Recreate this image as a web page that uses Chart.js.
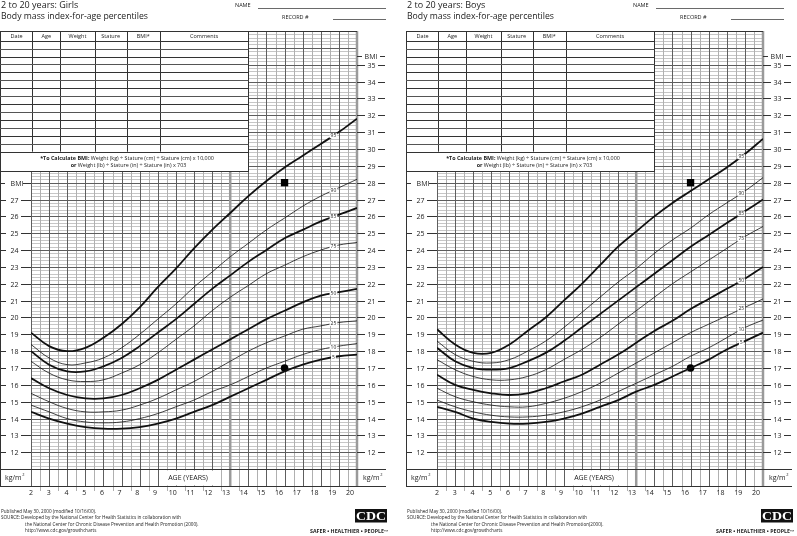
<!DOCTYPE html>
<html>
<head>
<meta charset="utf-8">
<script src="https://cdn.jsdelivr.net/npm/chart.js@4.4.1/dist/chart.umd.min.js"></script>
<style>
  html, body { margin: 0; padding: 0; background: #fff; }
  #page { position: relative; width: 797px; height: 536px; overflow: hidden; }
  .half { position: absolute; top: 0; width: 391px; height: 536px; }
</style>
</head>
<body>
<div id="page">
  <div class="half" style="left:0"><canvas id="girls"></canvas></div>
  <div class="half" style="left:406px"><canvas id="boys"></canvas></div>
</div>
<script>
// ages on the x axis (years)
const ages = [2, 3, 4, 5, 6, 7, 8, 9, 10, 11, 12, 13, 14, 15, 16, 17, 18, 19, 20];
const percentiles = ['5', '10', '25', '50', '75', '85', '90', '95'];
const heavyLines = ['5', '50', '85', '95'];
const bmiTicksLeft = [12, 13, 14, 15, 16, 17, 18, 19, 20, 21, 22, 23, 24, 25, 26, 27];
const bmiTicksRight = [12, 13, 14, 15, 16, 17, 18, 19, 20, 21, 22, 23, 24, 25, 26, 27, 28, 29, 30, 31, 32, 33, 34, 35];
const tableCols = ['Date', 'Age', 'Weight', 'Stature', 'BMI*', 'Comments'];

// girls BMI percentiles, one value per age
const girlsP5  = [14.4, 14.0, 13.7, 13.5, 13.4, 13.4, 13.5, 13.7, 14.0, 14.4, 14.8, 15.3, 15.8, 16.3, 16.8, 17.2, 17.5, 17.7, 17.8];
const girlsP10 = [14.8, 14.4, 14.0, 13.8, 13.75, 13.8, 14.0, 14.3, 14.7, 15.1, 15.6, 16.0, 16.5, 17.0, 17.4, 17.8, 18.1, 18.3, 18.45];
const girlsP25 = [15.5, 15.0, 14.6, 14.4, 14.4, 14.5, 14.8, 15.2, 15.7, 16.2, 16.8, 17.4, 18.0, 18.5, 18.9, 19.3, 19.5, 19.7, 19.8];
const girlsP50 = [16.4, 15.8, 15.4, 15.2, 15.2, 15.4, 15.8, 16.3, 16.9, 17.5, 18.1, 18.7, 19.3, 19.9, 20.4, 20.9, 21.3, 21.5, 21.7];
const girlsP75 = [17.4, 16.7, 16.3, 16.2, 16.3, 16.7, 17.2, 17.9, 18.7, 19.5, 20.4, 21.2, 21.9, 22.6, 23.1, 23.6, 24.0, 24.3, 24.45];
const girlsP85 = [18.0, 17.2, 16.8, 16.8, 17.1, 17.6, 18.3, 19.1, 19.9, 20.8, 21.7, 22.5, 23.3, 24.0, 24.7, 25.2, 25.7, 26.1, 26.5];
const girlsP90 = [18.4, 17.6, 17.2, 17.3, 17.6, 18.2, 19.0, 19.9, 20.8, 21.8, 22.7, 23.6, 24.4, 25.2, 25.9, 26.6, 27.2, 27.7, 28.2];
const girlsP95 = [19.1, 18.3, 18.0, 18.2, 18.8, 19.6, 20.6, 21.8, 22.9, 24.1, 25.2, 26.2, 27.2, 28.1, 28.9, 29.6, 30.3, 31.0, 31.8];

// boys BMI percentiles
const boysP5  = [14.7, 14.4, 14.0, 13.8, 13.7, 13.7, 13.8, 14.0, 14.3, 14.7, 15.1, 15.6, 16.0, 16.5, 17.0, 17.5, 18.1, 18.6, 19.1];
const boysP10 = [15.1, 14.7, 14.4, 14.2, 14.1, 14.1, 14.2, 14.4, 14.7, 15.1, 15.6, 16.1, 16.6, 17.1, 17.7, 18.2, 18.8, 19.4, 19.85];
const boysP25 = [15.8, 15.3, 15.0, 14.8, 14.7, 14.7, 14.9, 15.2, 15.6, 16.1, 16.7, 17.3, 17.9, 18.5, 19.1, 19.6, 20.1, 20.6, 21.1];
const boysP50 = [16.6, 16.0, 15.7, 15.5, 15.4, 15.5, 15.8, 16.2, 16.6, 17.2, 17.8, 18.5, 19.2, 19.8, 20.5, 21.1, 21.7, 22.3, 23.0];
const boysP75 = [17.5, 16.9, 16.5, 16.3, 16.3, 16.5, 16.9, 17.5, 18.1, 18.8, 19.6, 20.4, 21.2, 22.0, 22.7, 23.4, 24.1, 24.8, 25.4];
const boysP85 = [18.2, 17.4, 17.0, 16.9, 17.0, 17.4, 17.9, 18.6, 19.4, 20.2, 21.0, 21.8, 22.6, 23.4, 24.2, 24.9, 25.6, 26.3, 27.0];
const boysP90 = [18.6, 17.8, 17.4, 17.3, 17.5, 18.0, 18.6, 19.4, 20.3, 21.2, 22.1, 22.9, 23.8, 24.6, 25.3, 26.1, 26.8, 27.5, 28.3];
const boysP95 = [19.3, 18.4, 17.9, 17.9, 18.4, 19.2, 20.0, 21.0, 22.0, 23.1, 24.2, 25.1, 26.0, 26.8, 27.5, 28.2, 28.9, 29.7, 30.6];

// plotted example measurements (square and dot)
const markAges = [16, 16];
const markBmi = [28, 17];

const FONT = '"Open Sans", "Noto Sans", sans-serif';
const INK = '#222';

function line(ctx, x0, y0, x1, y1) {
  ctx.beginPath();
  ctx.moveTo(x0, y0);
  ctx.lineTo(x1, y1);
  ctx.stroke();
}

function text(ctx, s, x, y, font, align) {
  ctx.font = font;
  ctx.textAlign = align || 'left';
  ctx.textBaseline = 'middle';
  ctx.fillStyle = INK;
  ctx.fillText(s, x, y);
}

// bold + normal pieces on one line, centred on cx
function richLine(ctx, parts, cx, y, size) {
  let w = 0;
  parts.forEach(p => { ctx.font = (p[1] ? 'bold ' : '') + size + 'px ' + FONT; w += ctx.measureText(p[0]).width; });
  let x = cx - w / 2;
  parts.forEach(p => {
    const f = (p[1] ? 'bold ' : '') + size + 'px ' + FONT;
    text(ctx, p[0], x, y, f, 'left');
    x += ctx.measureText(p[0]).width;
  });
}

const TBL_R = 248.5;
const TBL_T = 31.5;
const TBL_B = 171.5;

function drawGrid(chart) {
  const {ctx, chartArea: a, scales: {x, y}} = chart;
  ctx.save();
  ctx.lineWidth = 1;
  // minor lines first
  ctx.strokeStyle = '#c6c6c6';
  for (let k = 55; k <= 185; k++) {
    if (k % 5 === 0) continue;
    const py = Math.round(y.getPixelForValue(k / 5)) + 0.5;
    line(ctx, py < TBL_B ? TBL_R : a.left, py, a.right, py);
  }
  ctx.strokeStyle = '#b0b0b0';
  for (let k = 5; k <= 39; k += 2) {
    const px = Math.round(x.getPixelForValue(k / 2)) + 0.5;
    line(ctx, px, px < TBL_R ? TBL_B : a.top, px, a.bottom + 5);
  }
  // major lines
  ctx.strokeStyle = '#5e5e5e';
  for (let v = 11; v <= 37; v++) {
    const py = Math.round(y.getPixelForValue(v)) + 0.5;
    line(ctx, py < TBL_B ? TBL_R : a.left, py, a.right, py);
  }
  for (let v = 2; v <= 20; v++) {
    const px = Math.round(x.getPixelForValue(v)) + 0.5;
    line(ctx, px, px < TBL_R ? TBL_B : a.top, px, a.bottom);
  }
  // grey heavy rules
  ctx.strokeStyle = '#9a9a9a';
  ctx.lineWidth = 2.5;
  [13, 20].forEach(v => {
    const px = x.getPixelForValue(v);
    line(ctx, px, v < 14 ? TBL_B : a.top, px, a.bottom);
  });
  // frame
  ctx.strokeStyle = '#333';
  ctx.lineWidth = 1;
  const y11 = Math.round(y.getPixelForValue(11)) + 0.5;
  const yb = Math.round(a.bottom) + 0.5;
  line(ctx, 0.5, TBL_T, 0.5, yb);
  line(ctx, 0, y11, 386, y11);
  line(ctx, 0, yb, 386, yb);
  line(ctx, TBL_R, TBL_T, a.right, TBL_T);
  // AGE row label box
  ctx.fillStyle = '#fff';
  ctx.fillRect(163, y11 + 1, 50, yb - y11 - 2);
  ctx.restore();
}

function drawTable(ctx) {
  const cols = [1, 32.3, 60.3, 94.7, 126.7, 159.7, TBL_R];
  const rowsTop = 40.7, rowsBottom = 151.7, nRows = 14;
  ctx.save();
  ctx.fillStyle = '#fff';
  ctx.fillRect(0, TBL_T, TBL_R, TBL_B - TBL_T);
  ctx.strokeStyle = '#333';
  ctx.lineWidth = 1;
  ctx.strokeRect(0.5, TBL_T, TBL_R - 0.5, TBL_B - TBL_T);
  for (let i = 1; i < cols.length - 1; i++) {
    const cx = Math.round(cols[i]) + 0.5;
    line(ctx, cx, TBL_T, cx, rowsBottom);
  }
  const rh = (rowsBottom - rowsTop) / nRows;
  for (let r = 0; r <= nRows; r++) {
    const ry = Math.round(rowsTop + r * rh) + 0.5;
    ctx.strokeStyle = r % 2 ? '#555' : '#333';
    line(ctx, 0, ry, TBL_R, ry);
  }
  tableCols.forEach((c, i) => {
    text(ctx, c, (cols[i] + cols[i + 1]) / 2, 36.2, '5.5px ' + FONT, 'center');
  });
  richLine(ctx, [['*To Calculate BMI:', true], [' Weight (kg) \u00f7 Stature (cm) \u00f7 Stature (cm) x 10,000', false]], 127, 158, 5.4);
  richLine(ctx, [['or', true], [' Weight (lb) \u00f7 Stature (in) \u00f7 Stature (in) x 703', false]], 128.5, 165, 5.4);
  ctx.restore();
}

function kgm2(ctx, x, y) {
  text(ctx, 'kg/m', x, y, '7px ' + FONT, 'left');
  const w = ctx.measureText('kg/m').width;
  text(ctx, '2', x + w + 0.6, y - 2.5, '4px ' + FONT, 'left');
}

function drawAxisText(chart, opts) {
  const {ctx, chartArea: a, scales: {x, y}} = chart;
  ctx.save();
  ctx.strokeStyle = '#333';
  ctx.lineWidth = 1;
  const tickFont = '7px ' + FONT;
  bmiTicksLeft.forEach(v => {
    const py = Math.round(y.getPixelForValue(v)) + 0.5;
    line(ctx, 1, py, 6, py);
    line(ctx, 21, py, a.left, py);
    text(ctx, String(v), 14.5, py, tickFont, 'center');
  });
  let py = Math.round(y.getPixelForValue(28)) + 0.5;
  line(ctx, 1, py, 5, py);
  line(ctx, 23, py, a.left, py);
  text(ctx, 'BMI', 17, py, tickFont, 'center');
  bmiTicksRight.forEach(v => {
    const ry = Math.round(y.getPixelForValue(v)) + 0.5;
    line(ctx, a.right, ry, a.right + 8, ry);
    line(ctx, a.right + 21, ry, a.right + 28, ry);
    text(ctx, String(v), a.right + 14.5, ry, tickFont, 'center');
  });
  py = Math.round(y.getPixelForValue(35.5)) + 0.5;
  line(ctx, a.right, py, a.right + 5, py);
  line(ctx, a.right + 23, py, a.right + 28, py);
  text(ctx, 'BMI', a.right + 14, py, tickFont, 'center');
  // age labels
  ages.forEach(v => {
    text(ctx, String(v), x.getPixelForValue(v) - (v - 2) * 0.39, 493, tickFont, 'center');
  });
  const rowY = (y.getPixelForValue(11) + a.bottom) / 2;
  text(ctx, 'AGE (YEARS)', 188, rowY, '7px ' + FONT, 'center');
  kgm2(ctx, 5, rowY);
  kgm2(ctx, a.right + 6, rowY);
  ctx.restore();
}

function drawCurveLabels(chart, opts) {
  const {ctx, scales: {x, y}} = chart;
  ctx.save();
  const f = '5px ' + FONT;
  ctx.font = f;
  opts.series.forEach(s => {
    const i = Math.floor(opts.labelAge) - 2;
    const t = opts.labelAge - Math.floor(opts.labelAge);
    const v = s.v[i] + t * (s.v[i + 1] - s.v[i]);
    const px = x.getPixelForValue(opts.labelAge);
    const py = y.getPixelForValue(v);
    const w = ctx.measureText(s.p).width;
    ctx.fillStyle = '#fff';
    ctx.fillRect(px - w / 2 - 1, py - 2.5, w + 2, 5);
    text(ctx, s.p, px, py, f, 'center');
  });
  ctx.restore();
}

function drawSheetText(chart, opts) {
  const ctx = chart.ctx;
  ctx.save();
  text(ctx, '2 to 20 years: ' + opts.sex, 1, 5.5, '9px ' + FONT, 'left');
  text(ctx, 'Body mass index-for-age percentiles', 1, 16.3, '8.7px ' + FONT, 'left');
  text(ctx, 'NAME', opts.nameX, 5.8, '5.5px ' + FONT, 'left');
  text(ctx, 'RECORD #', opts.nameX + 47, 17, '5.5px ' + FONT, 'left');
  ctx.strokeStyle = '#444';
  ctx.lineWidth = 0.8;
  line(ctx, opts.nameX + 23, 8.5, opts.nameX + 151, 8.5);
  line(ctx, opts.nameX + 98, 19.5, opts.nameX + 151, 19.5);
  // footer
  const ff = '4.6px ' + FONT;
  text(ctx, 'Published May 30, 2000 (modified 10/16/00).', 1, 511.5, ff, 'left');
  text(ctx, 'SOURCE: Developed by the National Center for Health Statistics in collaboration with', 1, 518, ff, 'left');
  text(ctx, 'the National Center for Chronic Disease Prevention and Health Promotion' + opts.promo, 25, 524.5, ff, 'left');
  text(ctx, 'http://www.cdc.gov/growthcharts', 25, 530.5, ff, 'left');
  // CDC logo
  ctx.fillStyle = '#111';
  ctx.fillRect(355, 509, 32, 13.5);
  ctx.font = 'bold 13px "Liberation Serif", serif';
  const cw = ctx.measureText('CDC').width;
  ctx.save();
  ctx.translate(371, 516);
  ctx.scale(30 / cw, 1);
  ctx.fillStyle = '#fff';
  ctx.textAlign = 'center';
  ctx.textBaseline = 'middle';
  ctx.fillText('CDC', 0, 0.8);
  ctx.restore();
  ctx.font = 'bold 4.5px ' + FONT;
  const s = 'SAFER \u2022 HEALTHIER \u2022 PEOPLE\u2122';
  const sw = ctx.measureText(s).width;
  ctx.save();
  ctx.translate(310, 531.5);
  ctx.scale(78 / sw, 1);
  ctx.fillStyle = INK;
  ctx.textAlign = 'left';
  ctx.textBaseline = 'middle';
  ctx.fillText(s, 0, 0);
  ctx.restore();
  ctx.restore();
}

const sheetPlugin = {
  id: 'sheet',
  beforeDatasetsDraw(chart, args, opts) {
    drawGrid(chart);
  },
  afterDatasetsDraw(chart, args, opts) {
    drawTable(chart.ctx);
    drawAxisText(chart, opts);
    drawCurveLabels(chart, opts);
    drawSheetText(chart, opts);
  }
};

function makeChart(canvasId, series, extra) {
  const datasets = series.map(s => ({
    label: s.p,
    data: ages.map((a, i) => ({x: a, y: s.v[i]})),
    borderColor: '#111',
    borderWidth: heavyLines.includes(s.p) ? 1.8 : 0.8,
    pointRadius: 0,
    showLine: true,
    fill: false,
    tension: 0.4
  }));
  datasets.push({
    data: [{x: markAges[0], y: markBmi[0]}],
    pointStyle: 'rect', pointRadius: 5.2, backgroundColor: '#000', borderColor: '#000', borderWidth: 0, showLine: false
  });
  datasets.push({
    data: [{x: markAges[1], y: markBmi[1]}],
    pointStyle: 'circle', pointRadius: 3.8, backgroundColor: '#000', borderColor: '#000', borderWidth: 0, showLine: false
  });
  extra.series = series;
  return new Chart(document.getElementById(canvasId), {
    type: 'scatter',
    data: {datasets},
    options: {
      responsive: true,
      maintainAspectRatio: false,
      animation: false,
      events: [],
      layout: {padding: {left: 31, right: 34, top: 31, bottom: 50}},
      scales: {
        x: {type: 'linear', min: 2, max: 20, display: false},
        y: {type: 'linear', min: 10, max: 37, display: false}
      },
      plugins: {
        legend: {display: false},
        tooltip: {enabled: false},
        sheet: extra
      }
    },
    plugins: [sheetPlugin]
  });
}

const girlsVals = [girlsP5, girlsP10, girlsP25, girlsP50, girlsP75, girlsP85, girlsP90, girlsP95];
const boysVals = [boysP5, boysP10, boysP25, boysP50, boysP75, boysP85, boysP90, boysP95];

makeChart('girls', percentiles.map((p, i) => ({p, v: girlsVals[i]})),
  {sex: 'Girls', nameX: 235, labelAge: 18.7, promo: ' (2000).'});
makeChart('boys', percentiles.map((p, i) => ({p, v: boysVals[i]})),
  {sex: 'Boys', nameX: 227, labelAge: 18.8, promo: '(2000).'});
</script>
</body>
</html>
